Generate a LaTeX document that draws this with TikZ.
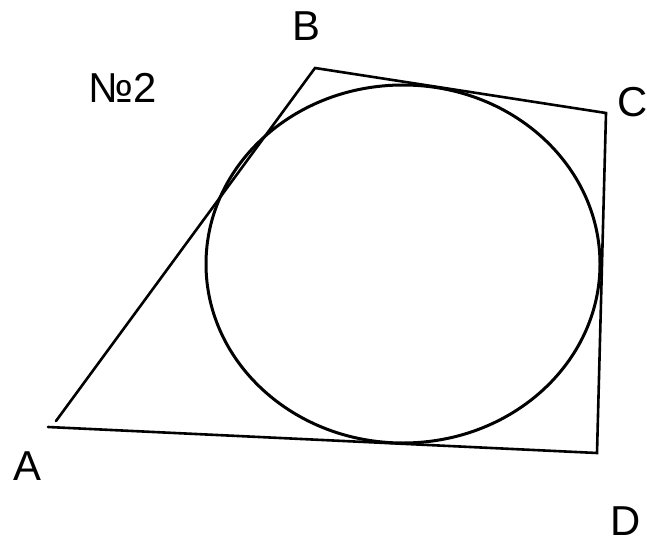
\documentclass[tikz,border=0pt]{standalone}
\usepackage{fontspec}
\setmainfont{Liberation Sans}
\begin{document}
\begin{tikzpicture}[x=1bp,y=-1bp,
  edge/.style={line width=2.6bp, line cap=round, line join=miter},
  lbl/.style={font=\fontsize{42}{48}\selectfont, inner sep=0pt}]
\useasboundingbox (0,0) rectangle (647,543);
\coordinate (A) at (48,427);
\coordinate (Ab) at (56,421);
\coordinate (B) at (315,68);
\coordinate (C) at (606,113);
\coordinate (D) at (597,453);
\draw[edge] (Ab) -- (B) -- (C) -- (D) -- (A);
\draw[line width=3bp] (403,264) ellipse [x radius=197, y radius=179];
\node[lbl] (la) at (27,466) {A};
\node[lbl] (lb) at (306,26) {B};
\node[lbl] (lc) at (633,102) {C};
\node[lbl] (ld) at (626,521) {D};
\node[lbl] (ln) at (123,88) {№2};
\end{tikzpicture}
\end{document}
